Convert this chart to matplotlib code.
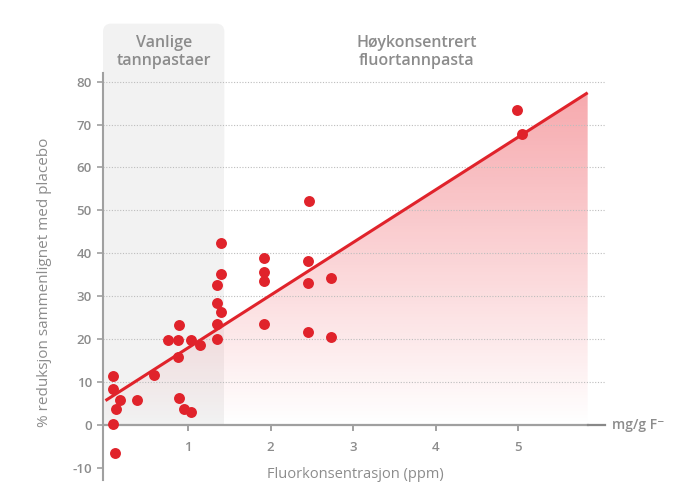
import matplotlib
matplotlib.use("Agg")
import matplotlib.pyplot as plt
import numpy as np
from matplotlib.patches import FancyBboxPatch, Rectangle, Polygon
from matplotlib.colors import LinearSegmentedColormap

plt.rcParams['font.family'] = ['Open Sans', 'DejaVu Sans']

# data
konsentrasjon = [0.09, 0.09, 0.18, 0.13, 0.09, 0.11, 0.38, 0.59, 0.76, 0.88,
                 0.89, 0.88, 0.89, 0.95, 1.04, 1.04, 1.15, 1.35, 1.35, 1.35,
                 1.35, 1.40, 1.40, 1.40, 1.92, 1.92, 1.92, 1.92, 2.45, 2.45,
                 2.45, 2.46, 2.73, 2.73, 4.99, 5.04]
reduksjon = [11.4, 8.5, 5.9, 3.8, 0.2, -6.6, 5.9, 11.7, 19.9, 19.9,
             23.2, 15.8, 6.3, 3.8, 3.1, 19.9, 18.6, 32.6, 28.5, 23.5,
             20.0, 35.1, 26.3, 42.3, 38.9, 35.6, 33.6, 23.5, 38.1, 33.2,
             21.7, 52.2, 34.2, 20.4, 73.3, 67.9]
trend_x = [0.0, 5.84]
trend_y = [5.7, 77.4]
vanlig_grense = 1.44
y_ticks = [-10, 0, 10, 20, 30, 40, 50, 60, 70, 80]
x_ticks = [1, 2, 3, 4, 5]

rod = '#e0232b'
gra_tekst = '#8c8c8c'
akse_farge = '#a0a0a0'

fig = plt.figure(figsize=(6.98, 5.0), dpi=100)
ax = fig.add_axes([103 / 698, 1 - 480 / 500, (605 - 103) / 698, (480 - 73) / 500])
ax.set_xlim(-0.03, 6.05)
ax.set_ylim(-12.8, 82)

# grått felt for vanlige tannpastaer (avrundet topp)
aspekt = 82.5 / 4.29
ax.add_patch(Rectangle((-0.03, 0), vanlig_grense + 0.03, 80, facecolor='#f2f2f2',
                       edgecolor='none', zorder=0, clip_on=False))
ax.add_patch(FancyBboxPatch((-0.03, 60), vanlig_grense + 0.03, 33.5,
                            boxstyle='round,pad=0,rounding_size=0.1',
                            mutation_aspect=aspekt, facecolor='#f2f2f2',
                            edgecolor='none', zorder=0, clip_on=False))

# gradient under trendlinjen
cmap = LinearSegmentedColormap.from_list(
    'rosa', [(0.92, 0.16, 0.2, 0.0), (0.92, 0.16, 0.2, 0.40)])
grad = np.linspace(0, 1, 256).reshape(-1, 1)
bilde = ax.imshow(grad, cmap=cmap, origin='lower', aspect='auto',
                  extent=(trend_x[0], trend_x[1], 0, trend_y[1]), zorder=1)
poly = Polygon([(trend_x[0], 0), (trend_x[0], trend_y[0]),
                (trend_x[1], trend_y[1]), (trend_x[1], 0)],
               closed=True, transform=ax.transData, facecolor='none', edgecolor='none')
ax.add_patch(poly)
bilde.set_clip_path(poly)

# rutenett
for yv in range(10, 81, 10):
    ax.axhline(yv, color='#bdbdbd', lw=0.8, ls=(0, (1, 1.5)), zorder=2)

ax.plot(trend_x, trend_y, color=rod, lw=2.2, zorder=3, solid_capstyle='butt')
ax.scatter(konsentrasjon, reduksjon, s=62, color=rod, zorder=4, linewidths=0)

# akser
for s in ['top', 'right', 'bottom']:
    ax.spines[s].set_visible(False)
ax.spines['left'].set_color(akse_farge)
ax.spines['left'].set_linewidth(1.5)
ax.axhline(0, xmin=0, xmax=(5.84 + 0.03) / 6.08, color=akse_farge, lw=1.6, zorder=2)
ax.plot([5.84, 6.05], [0, 0], color='#888888', lw=1.6, zorder=2, clip_on=False)

ax.set_yticks(y_ticks)
ax.set_yticklabels([str(v) for v in y_ticks])
ax.set_xticks([])
ax.tick_params(axis='y', length=4, width=1.2, color=akse_farge, labelcolor=gra_tekst,
               labelsize=9.5, pad=4)
for lbl in ax.get_yticklabels():
    lbl.set_fontweight('semibold')
for xv in x_ticks:
    ax.plot([xv, xv], [0, -1.2], color=akse_farge, lw=1.4, clip_on=False, zorder=2)
    ax.text(xv, -5.3, str(xv), ha='center', va='center', color=gra_tekst,
            fontsize=9.5, fontweight='semibold')

ax.text(6.14, 0, 'mg/g F\u207b', ha='left', va='center', color=gra_tekst,
        fontsize=10, fontweight='semibold', clip_on=False)

fig.text(45 / 698, 1 - 282 / 500, '% reduksjon sammenlignet med placebo', rotation=90,
         ha='center', va='center', color=gra_tekst, fontsize=11)
fig.text(355 / 698, 1 - 474 / 500, 'Fluorkonsentrasjon (ppm)', ha='center', va='center',
         color=gra_tekst, fontsize=10.5)

fig.text(164 / 698, 1 - 52 / 500, 'Vanlige\ntannpastaer', ha='center', va='center',
         color=gra_tekst, fontsize=11.5, fontweight='semibold', linespacing=1.15)
fig.text(417 / 698, 1 - 52 / 500, 'Høykonsentrert\nfluortannpasta', ha='center',
         va='center', color=gra_tekst, fontsize=11.5, fontweight='semibold',
         linespacing=1.15)

fig.savefig('out.png', dpi=100)
